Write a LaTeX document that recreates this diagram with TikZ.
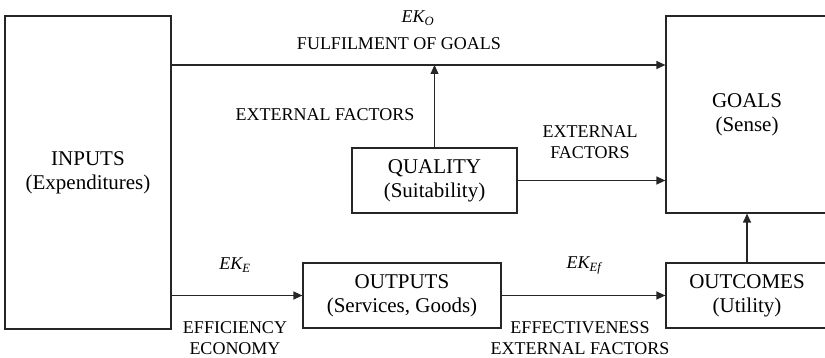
\documentclass[tikz,border=0pt]{standalone}
\usepackage{fontspec}
\setmainfont{Liberation Serif}
\usepackage{tikz}
\usetikzlibrary{positioning, arrows.meta}

\begin{document}
\begin{tikzpicture}[
    x=1pt, y=-1pt,
    box/.style={
        draw=black!85,
        line width=1.2pt,
        align=center,
        inner sep=0pt,
        font=\rmfamily\fontsize{21}{24}\selectfont
    },
    lbl/.style={align=center, inner sep=0pt, font=\rmfamily\fontsize{18}{21}\selectfont},
    arrow/.style={-{Triangle[length=9pt,width=8pt]}, line width=1.2pt, draw=black!85}
]
\useasboundingbox (0,0) rectangle (825,358);

\node[box, minimum width=166pt, minimum height=313pt] (inputs) at (88,172.5) {INPUTS\\(Expenditures)};
\node[box, minimum width=162pt, minimum height=197pt] (goals) at (747,114.5) {GOALS\\(Sense)};
\node[box, minimum width=165pt, minimum height=65pt] (quality) at (434.5,180.5) {QUALITY\\(Suitability)};
\node[box, minimum width=198pt, minimum height=65pt] (outputs) at (402,295.5) {OUTPUTS\\(Services, Goods)};
\node[box, minimum width=162pt, minimum height=65pt] (outcomes) at (747,295.5) {OUTCOMES\\(Utility)};

\coordinate (top) at (0,65);

\draw[arrow] (inputs.east |- top) -- (goals.west |- top);
\draw[arrow] (quality.north) -- (quality.north |- top);
\draw[arrow] (quality.east) -- (goals.west |- quality.east);
\draw[arrow] (inputs.east |- outputs.west) -- (outputs.west);
\draw[arrow] (outputs.east) -- (outcomes.west);
\draw[arrow] (outcomes.north) -- (goals.south);

\node[lbl] (eko) at (418,18) {\textit{EK\textsubscript{O}}};
\node[lbl] (fulfil) at (399,44) {FULFILMENT OF GOALS};
\node[lbl] (extl) at (325,115) {EXTERNAL FACTORS};
\node[lbl] (extr) at (590,142) {EXTERNAL\\FACTORS};
\node[lbl] (eke) at (235,265) {\textit{EK\textsubscript{E}}};
\node[lbl] (effic) at (235,338) {EFFICIENCY\\ECONOMY};
\node[lbl] (ekef) at (584,265) {\textit{EK\textsubscript{Ef}}};
\node[lbl] (effect) at (580,338) {EFFECTIVENESS\\EXTERNAL FACTORS};

\end{tikzpicture}
\end{document}
